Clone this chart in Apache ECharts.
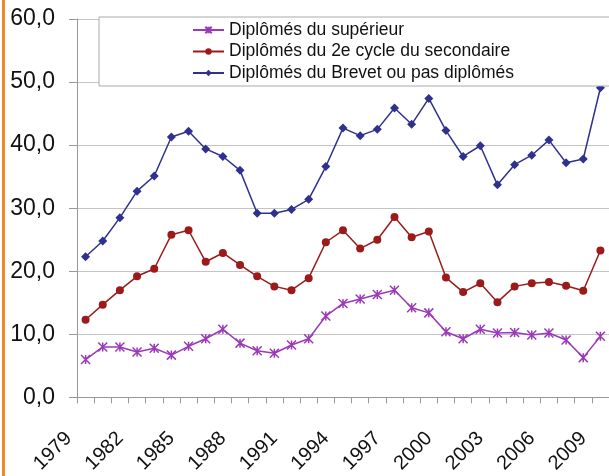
<!DOCTYPE html>
<html>
<head>
<meta charset="utf-8">
<script src="https://cdn.jsdelivr.net/npm/echarts@6/dist/echarts.min.js"></script>
<style>
html,body{margin:0;padding:0;background:#fff;}
#chart{width:609px;height:476px;}
</style>
</head>
<body>
<div id="chart"></div>
<script>
const years = [];
for (let y = 1979; y <= 2009; y++) years.push(String(y));

const seriesNames = [
  'Diplômés du supérieur',
  'Diplômés du 2e cycle du secondaire',
  'Diplômés du Brevet ou pas diplômés'
];

const superieur = [6.0,8.0,8.0,7.2,7.8,6.7,8.1,9.3,10.8,8.6,7.4,
  7.0,8.3,9.3,12.9,14.9,15.6,16.3,17.0,14.2,13.4,
  10.4,9.3,10.8,10.2,10.3,9.9,10.2,9.1,6.3,9.7];

const secondaire = [12.3,14.7,17.0,19.2,20.4,25.8,26.5,21.5,22.9,21.0,19.2,
  17.6,17.0,18.9,24.6,26.5,23.6,25.0,28.6,25.4,26.3,
  19.0,16.7,18.1,15.1,17.6,18.1,18.3,17.7,16.9,23.3];

const brevet = [22.3,24.8,28.5,32.7,35.1,41.3,42.2,39.4,38.2,36.0,29.2,
  29.2,29.8,31.4,36.6,42.7,41.5,42.5,45.9,43.3,47.4,
  42.3,38.2,39.9,33.7,36.9,38.4,40.8,37.2,37.8,49.1];

const yTicks = [0, 10, 20, 30, 40, 50, 60];

const colors = ['#9a3ab8', '#9b1b1b', '#30318f'];
const font = "'Liberation Sans', Arial, Helvetica, sans-serif";
const starPath = 'path://M0,0L10,10M10,0L0,10M5,0L5,10';

const chart = echarts.init(document.getElementById('chart'), null, {renderer: 'canvas'});
chart.setOption({
  animation: false,
  backgroundColor: '#fff',
  graphic: [{
    type: 'rect', shape: {x: 2, y: 0, width: 3, height: 476},
    style: {fill: '#f08a24'}, silent: true, z: 100
  }],
  grid: {left: 77, top: 19, width: 536, height: 381},
  legend: {
    data: seriesNames,
    orient: 'vertical',
    left: 99, top: 17,
    padding: [4, 140, 4, 93],
    itemWidth: 31, itemHeight: 8, itemGap: 3.5,
    backgroundColor: '#fff',
    borderColor: '#aaaaaa', borderWidth: 1,
    textStyle: {fontFamily: font, fontSize: 17.5, color: '#111', lineHeight: 18},
    z: 10
  },
  xAxis: {
    type: 'category',
    data: years,
    boundaryGap: true,
    axisLine: {lineStyle: {color: '#999', width: 1}},
    axisTick: {show: true, interval: 0, length: 6, lineStyle: {color: '#999'}},
    axisLabel: {
      interval: 2, rotate: 45, margin: 21,
      padding: [0, 24, 0, 0],
      fontFamily: font, fontSize: 20, color: '#111'
    },
    splitLine: {show: false}
  },
  yAxis: {
    type: 'value',
    min: yTicks[0], max: yTicks[yTicks.length - 1], interval: 10,
    axisLine: {show: true, lineStyle: {color: '#999', width: 1}},
    axisTick: {show: true, length: 8, lineStyle: {color: '#999'}},
    axisLabel: {
      margin: 22, fontFamily: font, fontSize: 23, color: '#111',
      formatter: v => v.toFixed(1).replace('.', ',')
    },
    splitLine: {show: true, lineStyle: {color: '#c4c4c4', width: 1}}
  },
  series: [
    {
      name: seriesNames[0], type: 'line', data: superieur,
      symbol: starPath, symbolSize: 9,
      lineStyle: {color: colors[0], width: 1.5},
      itemStyle: {color: colors[0], borderColor: colors[0], borderWidth: 1.5}
    },
    {
      name: seriesNames[1], type: 'line', data: secondaire,
      symbol: 'circle', symbolSize: 8,
      lineStyle: {color: colors[1], width: 1.5},
      itemStyle: {color: colors[1]}
    },
    {
      name: seriesNames[2], type: 'line', data: brevet,
      symbol: 'diamond', symbolSize: 9,
      lineStyle: {color: colors[2], width: 1.5},
      itemStyle: {color: colors[2]}
    }
  ]
});
</script>
</body>
</html>
